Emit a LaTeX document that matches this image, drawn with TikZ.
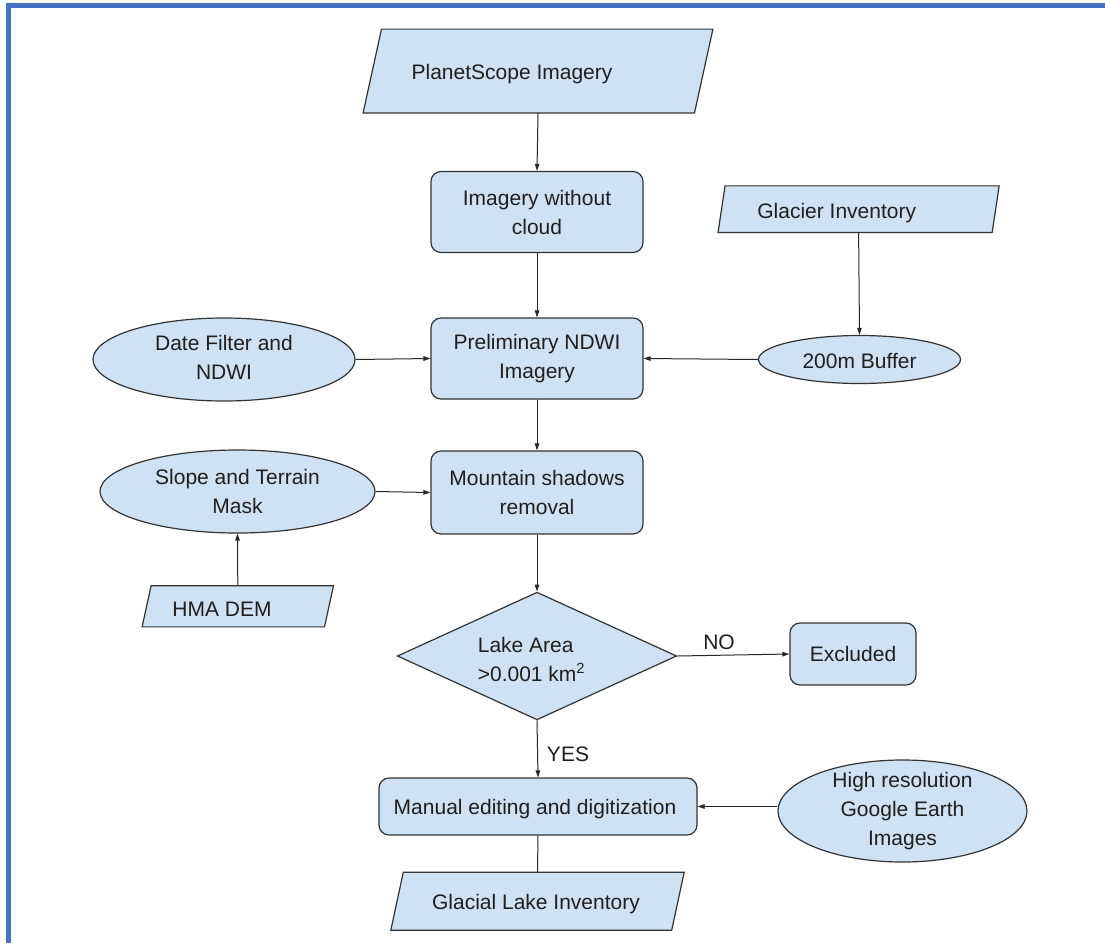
\documentclass[tikz,border=0pt]{standalone}
\usepackage{fontspec}
\setmainfont{Liberation Sans}
\usetikzlibrary{shapes.geometric,arrows.meta}
\definecolor{boxfill}{HTML}{CFE2F3}
\definecolor{frameblue}{HTML}{4472C4}
\definecolor{edgecol}{HTML}{333333}
\definecolor{txtcol}{HTML}{1F1F1F}
\newcommand\paraoutline[2]{\draw[parashape] ([xshift=#2]#1.north west) -- ([xshift=#2]#1.north east) -- ([xshift=-#2]#1.south east) -- ([xshift=-#2]#1.south west) -- cycle;}
\begin{document}
\begin{tikzpicture}[x=1pt,y=-1pt,
  every node/.style={font=\fontsize{21}{29}\selectfont, text=txtcol},
  box/.style={draw=edgecol, fill=boxfill, line width=1.2pt, rounded corners=10pt, align=center, inner sep=0pt},
  ell/.style={ellipse, draw=edgecol, fill=boxfill, line width=1.2pt, inner sep=0pt},
  dia/.style={diamond, draw=edgecol, fill=boxfill, line width=1.2pt, inner sep=0pt},
  parabox/.style={rectangle, inner sep=0pt, draw=none},
  parashape/.style={draw=edgecol, fill=boxfill, line width=1.2pt, line join=miter},
  txt/.style={align=center, inner sep=0pt},
  conn/.style={draw=black!85, line width=1pt},
  arr/.style={conn, -{Triangle[length=7pt,width=4.5pt]}},
]
\useasboundingbox (0,0) rectangle (1105,943);
\fill[white] (0,0) rectangle (1105,943);
% frame
\fill[frameblue] (6,3) rectangle (1105,8);
\fill[frameblue] (6,3) rectangle (11,943);

% PlanetScope Imagery
\node[parabox, minimum width=331, minimum height=83.4] (ps) at (538,71) {};
\paraoutline{ps}{9.2}
\node[txt] (pst) at (512,74) {PlanetScope Imagery};

% Imagery without cloud
\node[box, minimum width=212, minimum height=81] (iwc) at (537,212) {Imagery without\\cloud};

% Glacier Inventory
\node[parabox, minimum width=273.7, minimum height=46.3] (gi) at (858.6,209.2) {};
\paraoutline{gi}{3.5}
\node[txt] (git) at (836.7,213) {Glacier Inventory};

% 200m Buffer
\node[ell, minimum width=202, minimum height=48, label={[txt,yshift=-1pt]center:200m Buffer}] (buf) at (859.5,359.5) {};

% Date filter
\node[ell, minimum width=262, minimum height=83, label={[txt,yshift=2pt]center:Date Filter and\\NDWI}] (df) at (224,359.5) {};

% Preliminary
\node[box, minimum width=212, minimum height=81] (pre) at (537,358.5) {Preliminary NDWI\\Imagery};

% Slope and terrain
\node[ell, minimum width=275, minimum height=83, label={[txt]center:Slope and Terrain\\Mask}] (sl) at (237.5,491.5) {};

% Mountain shadows
\node[box, minimum width=212, minimum height=83] (ms) at (537,492.5) {Mountain shadows\\removal};

% HMA DEM
\node[parabox, minimum width=182, minimum height=40.7] (hma) at (237.8,606.3) {};
\paraoutline{hma}{4.5}
\node[txt] (hmat) at (222,609) {HMA DEM};

% Diamond
\node[dia, minimum width=279.4, minimum height=127.7] (dia) at (537,656) {};
\node[align=left, inner sep=0pt] (diat) at (531.5,659) {Lake Area\\>0.001 km\textsuperscript{2}};

% Excluded
\node[box, minimum width=126, minimum height=62] (ex) at (853,654) {Excluded};

% Manual editing
\node[box, minimum width=318, minimum height=57] (man) at (538,806.5) {};
\node[txt] (mant) at (535,809) {Manual editing and digitization};

% Google Earth
\node[ell, minimum width=249, minimum height=102, label={[txt]center:High resolution\\Google Earth\\Images}] (ge) at (902.5,811) {};

% Glacial Lake Inventory
\node[parabox, minimum width=280.5, minimum height=57.7] (gl) at (537.5,901.2) {};
\paraoutline{gl}{6.25}
\node[txt] (glt) at (536,904) {Glacial Lake Inventory};

% connectors
\draw[arr] (ps.south) -- (iwc.north);
\draw[arr] (iwc.south) -- (pre.north);
\draw[arr] (gi.south) -- (buf.north);
\draw[arr] (buf.west) -- (pre.east);
\draw[arr] (df.east) -- (pre.west);
\draw[arr] (pre.south) -- (ms.north);
\draw[arr] (sl.east) -- (ms.west);
\draw[arr] (hma.north) -- (sl.south);
\draw[arr] (ms.south) -- (dia.north);
\draw[arr] (dia.east) -- (ex.west);
\draw[arr] (dia.south) -- (man.north);
\draw[arr] (ge.west |- man.east) -- (man.east);
\draw[conn] (man.south) -- (gl.north);

% edge labels
\node[txt] (nolab) at (719,642) {NO};
\node[txt] (yeslab) at (568,754) {YES};
\end{tikzpicture}
\end{document}
